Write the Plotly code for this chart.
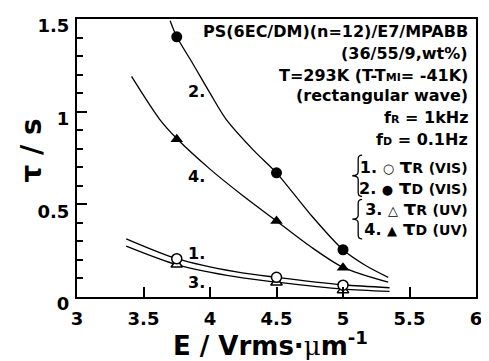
import plotly.graph_objects as go

# ---- data ----
E = [3.75, 4.5, 5.0]
tauR_vis = [0.207, 0.106, 0.064]
tauD_vis = [1.404, 0.670, 0.255]
tauR_uv = [0.175, 0.078, 0.037]
tauD_uv = [0.851, 0.410, 0.158]

fitD_vis_x = [3.70, 3.75, 3.87, 4.00, 4.12, 4.33, 4.50, 4.75, 5.00, 5.17, 5.34]
fitD_vis_y = [1.49, 1.404, 1.26, 1.10, 0.96, 0.79, 0.67, 0.45, 0.255, 0.17, 0.106]
fitD_uv_x = [3.41, 3.62, 3.75, 4.00, 4.25, 4.50, 4.75, 5.00, 5.34]
fitD_uv_y = [1.19, 0.96, 0.855, 0.69, 0.545, 0.41, 0.275, 0.16, 0.08]
fitR_vis_x = [3.37, 3.75, 4.20, 4.50, 5.00, 5.35]
fitR_vis_y = [0.314, 0.207, 0.135, 0.106, 0.066, 0.050]
fitR_uv_x = [3.37, 3.75, 4.20, 4.50, 5.00, 5.35]
fitR_uv_y = [0.275, 0.175, 0.108, 0.080, 0.042, 0.030]

x_ticks = [3, 3.5, 4, 4.5, 5, 5.5, 6]
x_ticklabels = ["3", "3.5", "4", "4.5", "5", "5.5", "6"]
y_ticks = [0, 0.5, 1, 1.5]
y_ticklabels = ["0", "0.5", "1", "1.5"]

info_lines = [
    "PS(6EC/DM)(n=12)/E7/MPABB",
    "(36/55/9,wt%)",
    "T=293K (T-T<span style='font-size:11px'>MI</span>= -41K)",
    "(rectangular wave)",
    "f<span style='font-size:11px'>R</span> = 1kHz",
    "f<span style='font-size:11px'>D</span> = 0.1Hz",
]
legend_lines = [
    ("1.", "○", "R", "(VIS)"),
    ("2.", "●", "D", "(VIS)"),
    ("3.", "△", "R", "(UV)"),
    ("4.", "▲", "D", "(UV)"),
]
curve_labels = ["1.", "2.", "3.", "4."]
curve_label_x = [3.90, 3.90, 3.90, 3.90]
curve_label_y = [0.234, 1.11, 0.08, 0.65]

# ---- figure ----
# the page body has an 8px margin, so the figure is drawn 8px in from the corner
OFF = 8
W, H = 489 - OFF, 361 - OFF
L, R, T, B = 77 - OFF, 9, 15 - OFF, 64
PW, PH = W - L - R, H - T - B
FONT = "DejaVu Sans"

def px(xs):  # screen x -> paper
    return (xs - 77) / PW

def py(ys):  # screen y -> paper
    return (297 - ys) / PH

fig = go.Figure()
line_style = dict(color="black", width=1.3, shape="spline", smoothing=0.8)
for xs, ys in [(fitD_vis_x, fitD_vis_y), (fitD_uv_x, fitD_uv_y),
               (fitR_vis_x, fitR_vis_y), (fitR_uv_x, fitR_uv_y)]:
    fig.add_trace(go.Scatter(x=xs, y=ys, mode="lines", line=line_style,
                             hoverinfo="skip"))

fig.add_trace(go.Scatter(x=E, y=tauR_uv, mode="markers",
                         marker=dict(symbol="triangle-up", size=10, color="white",
                                     line=dict(color="black", width=1.5))))
fig.add_trace(go.Scatter(x=E, y=tauR_vis, mode="markers",
                         marker=dict(symbol="circle", size=10, color="white",
                                     line=dict(color="black", width=1.5))))
fig.add_trace(go.Scatter(x=E, y=tauD_uv, mode="markers",
                         marker=dict(symbol="triangle-up", size=11, color="black")))
fig.add_trace(go.Scatter(x=E, y=tauD_vis, mode="markers",
                         marker=dict(symbol="circle", size=11, color="black")))

axis_common = dict(showgrid=False, zeroline=False, showline=True, linecolor="black",
                   linewidth=2, mirror=True, ticks="inside", tickcolor="black",
                   tickwidth=2, ticklen=10, ticklabeloverflow="allow",
                   tickfont=dict(family=FONT, size=18, color="black", weight="bold"))
fig.update_xaxes(range=[3, 6], tickvals=x_ticks, ticktext=x_ticklabels,
                 ticklabelstandoff=4, **axis_common)
fig.update_yaxes(range=[0, 1.5], tickvals=y_ticks, ticktext=y_ticklabels,
                 ticklabelshift=7, ticklabelstandoff=2,
                 minor=dict(dtick=0.1, ticks="inside", ticklen=6, tickwidth=2,
                            tickcolor="black"),
                 **axis_common)

ann = []
bold = dict(family=FONT, size=16, color="black", weight="bold")
info_y = [28, 50, 72, 93, 115, 137]
for txt, yy in zip(info_lines, info_y):
    ann.append(dict(text=txt, x=px(474), y=py(yy), xref="paper", yref="paper",
                    xanchor="right", yanchor="middle", showarrow=False, font=bold))
leg_rows = []
for num, sym, sub, tag in legend_lines:
    leg_rows.append(f"{num} <span style='font-size:13px'>{sym}</span> "
                    f"<span style='font-size:20px'>τ</span>"
                    f"<span style='font-size:14px'>{sub}</span> "
                    f"<span style='font-size:14px'>{tag}</span>")
ann.append(dict(text="<br>".join(leg_rows), x=px(474), y=py(196), xref="paper",
                yref="paper", xanchor="right", yanchor="middle", align="right",
                showarrow=False, font=bold))
for t, xx, yy in zip(curve_labels, curve_label_x, curve_label_y):
    ann.append(dict(text=t, x=xx, y=yy, xref="x", yref="y", xanchor="center",
                    yanchor="middle", showarrow=False, font=bold))

# axis titles
ann.append(dict(text="E / Vrms·<span style='font-family:DejaVu Serif;font-weight:normal'>μ</span>m<sup>-1</sup>",
                x=px(272), y=py(345), xref="paper", yref="paper", xanchor="center",
                yanchor="middle", showarrow=False,
                font=dict(family=FONT, size=26, color="black", weight="bold")))
ann.append(dict(text="τ / s", x=px(31), y=py(148), xref="paper", yref="paper",
                xanchor="center", yanchor="middle", showarrow=False, textangle=-90,
                font=dict(family=FONT, size=28, color="black", weight="bold")))

# braces for legend groups
def brace(x0, y0, y1):
    ym = (y0 + y1) / 2
    xa = x0 + 5
    xc = x0 - 3
    pts = [
        f"M {px(xa + 4)},{py(y0)}",
        f"Q {px(xa)},{py(y0)} {px(xa)},{py(y0 + 4)}",
        f"L {px(xa)},{py(ym - 4)}",
        f"Q {px(xa)},{py(ym)} {px(xc + 2)},{py(ym)}",
        f"Q {px(xa)},{py(ym)} {px(xa)},{py(ym + 4)}",
        f"L {px(xa)},{py(y1 - 4)}",
        f"Q {px(xa)},{py(y1)} {px(xa + 4)},{py(y1)}",
    ]
    return dict(type="path", path=" ".join(pts), xref="paper", yref="paper",
                line=dict(color="black", width=1.3))

shapes = [brace(356, 153, 195), brace(356, 198, 238)]

fig.update_layout(width=W, height=H, margin=dict(l=L, r=R, t=T, b=B),
                  paper_bgcolor="white", plot_bgcolor="white", showlegend=False,
                  annotations=ann, shapes=shapes,
                  font=dict(family=FONT, color="black"))

fig.write_html("out.html")
